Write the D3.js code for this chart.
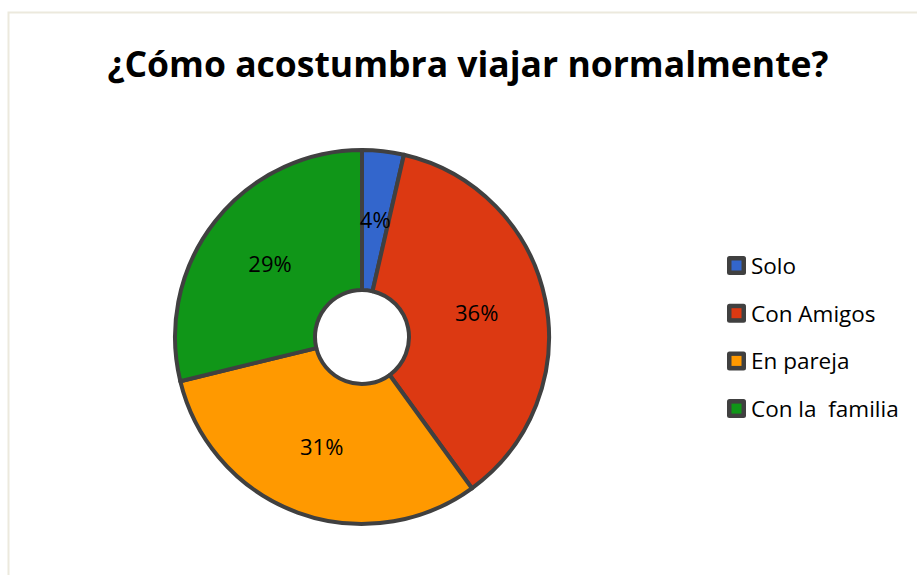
<!DOCTYPE html>
<html>
<head>
<meta charset="utf-8">
<script src="https://cdn.jsdelivr.net/npm/d3@7"></script>
<style>
  body { margin: 0; background: #fff; }
  svg { display: block; }
</style>
</head>
<body>
<svg width="917" height="575"></svg>
<script>
// datos
var categorias = ["Solo", "Con Amigos", "En pareja", "Con la  familia"];
var valores = [3.6, 36.4, 31.2, 28.8];
var etiquetas = ["4%", "36%", "31%", "29%"];
var colores = ["#3366cc", "#dc3912", "#ff9900", "#109618"];
var titulo = "¿Cómo acostumbra viajar normalmente?";

var svg = d3.select("svg"),
    width = +svg.attr("width"),
    height = +svg.attr("height");

// marco del gráfico
svg.append("rect")
    .attr("x", 8.5).attr("y", 12.5)
    .attr("width", 920).attr("height", 570)
    .attr("fill", "#fff")
    .attr("stroke", "#ece9dd")
    .attr("stroke-width", 2);

svg.append("text")
    .attr("x", 468)
    .attr("y", 77)
    .attr("text-anchor", "middle")
    .attr("font-family", "'Open Sans', sans-serif")
    .attr("font-weight", "bold")
    .attr("font-size", 35.5)
    .attr("fill", "#000")
    .text(titulo);

var cx = 362, cy = 337, rOut = 187, rIn = 47;

var pie = d3.pie().sort(null).value(d => d);
var arc = d3.arc().innerRadius(rIn).outerRadius(rOut);

var g = svg.append("g").attr("transform", "translate(" + cx + "," + cy + ")");

var arcs = pie(valores);

g.selectAll("path")
    .data(arcs)
    .enter()
    .append("path")
    .attr("d", arc)
    .attr("fill", (d, i) => colores[i])
    .attr("stroke", "#404040")
    .attr("stroke-width", 4)
    .attr("stroke-linejoin", "round");

g.selectAll("text.lbl")
    .data(arcs)
    .enter()
    .append("text")
    .attr("class", "lbl")
    .attr("transform", d => "translate(" + arc.centroid(d) + ")")
    .attr("text-anchor", "middle")
    .attr("dy", "0.35em")
    .attr("font-family", "'Open Sans', sans-serif")
    .attr("font-size", 22)
    .attr("fill", "#000")
    .text((d, i) => etiquetas[i]);

// leyenda
var ley = svg.append("g").attr("transform", "translate(727,265)");
var items = ley.selectAll("g")
    .data(categorias)
    .enter()
    .append("g")
    .attr("transform", (d, i) => "translate(0," + i * 47.7 + ")");

items.append("rect")
    .attr("x", 0).attr("y", -9)
    .attr("width", 19).attr("height", 19)
    .attr("rx", 2.5)
    .attr("fill", "#404040");
items.append("rect")
    .attr("x", 4.5).attr("y", -4.5)
    .attr("width", 10).attr("height", 10)
    .attr("fill", (d, i) => colores[i]);
items.append("text")
    .attr("x", 24)
    .attr("y", 1)
    .attr("dy", "0.35em")
    .attr("font-family", "'Open Sans', sans-serif")
    .attr("font-size", 22.5)
    .attr("fill", "#000")
    .attr("xml:space", "preserve")
    .style("white-space", "pre")
    .text(d => d);
</script>
</body>
</html>
